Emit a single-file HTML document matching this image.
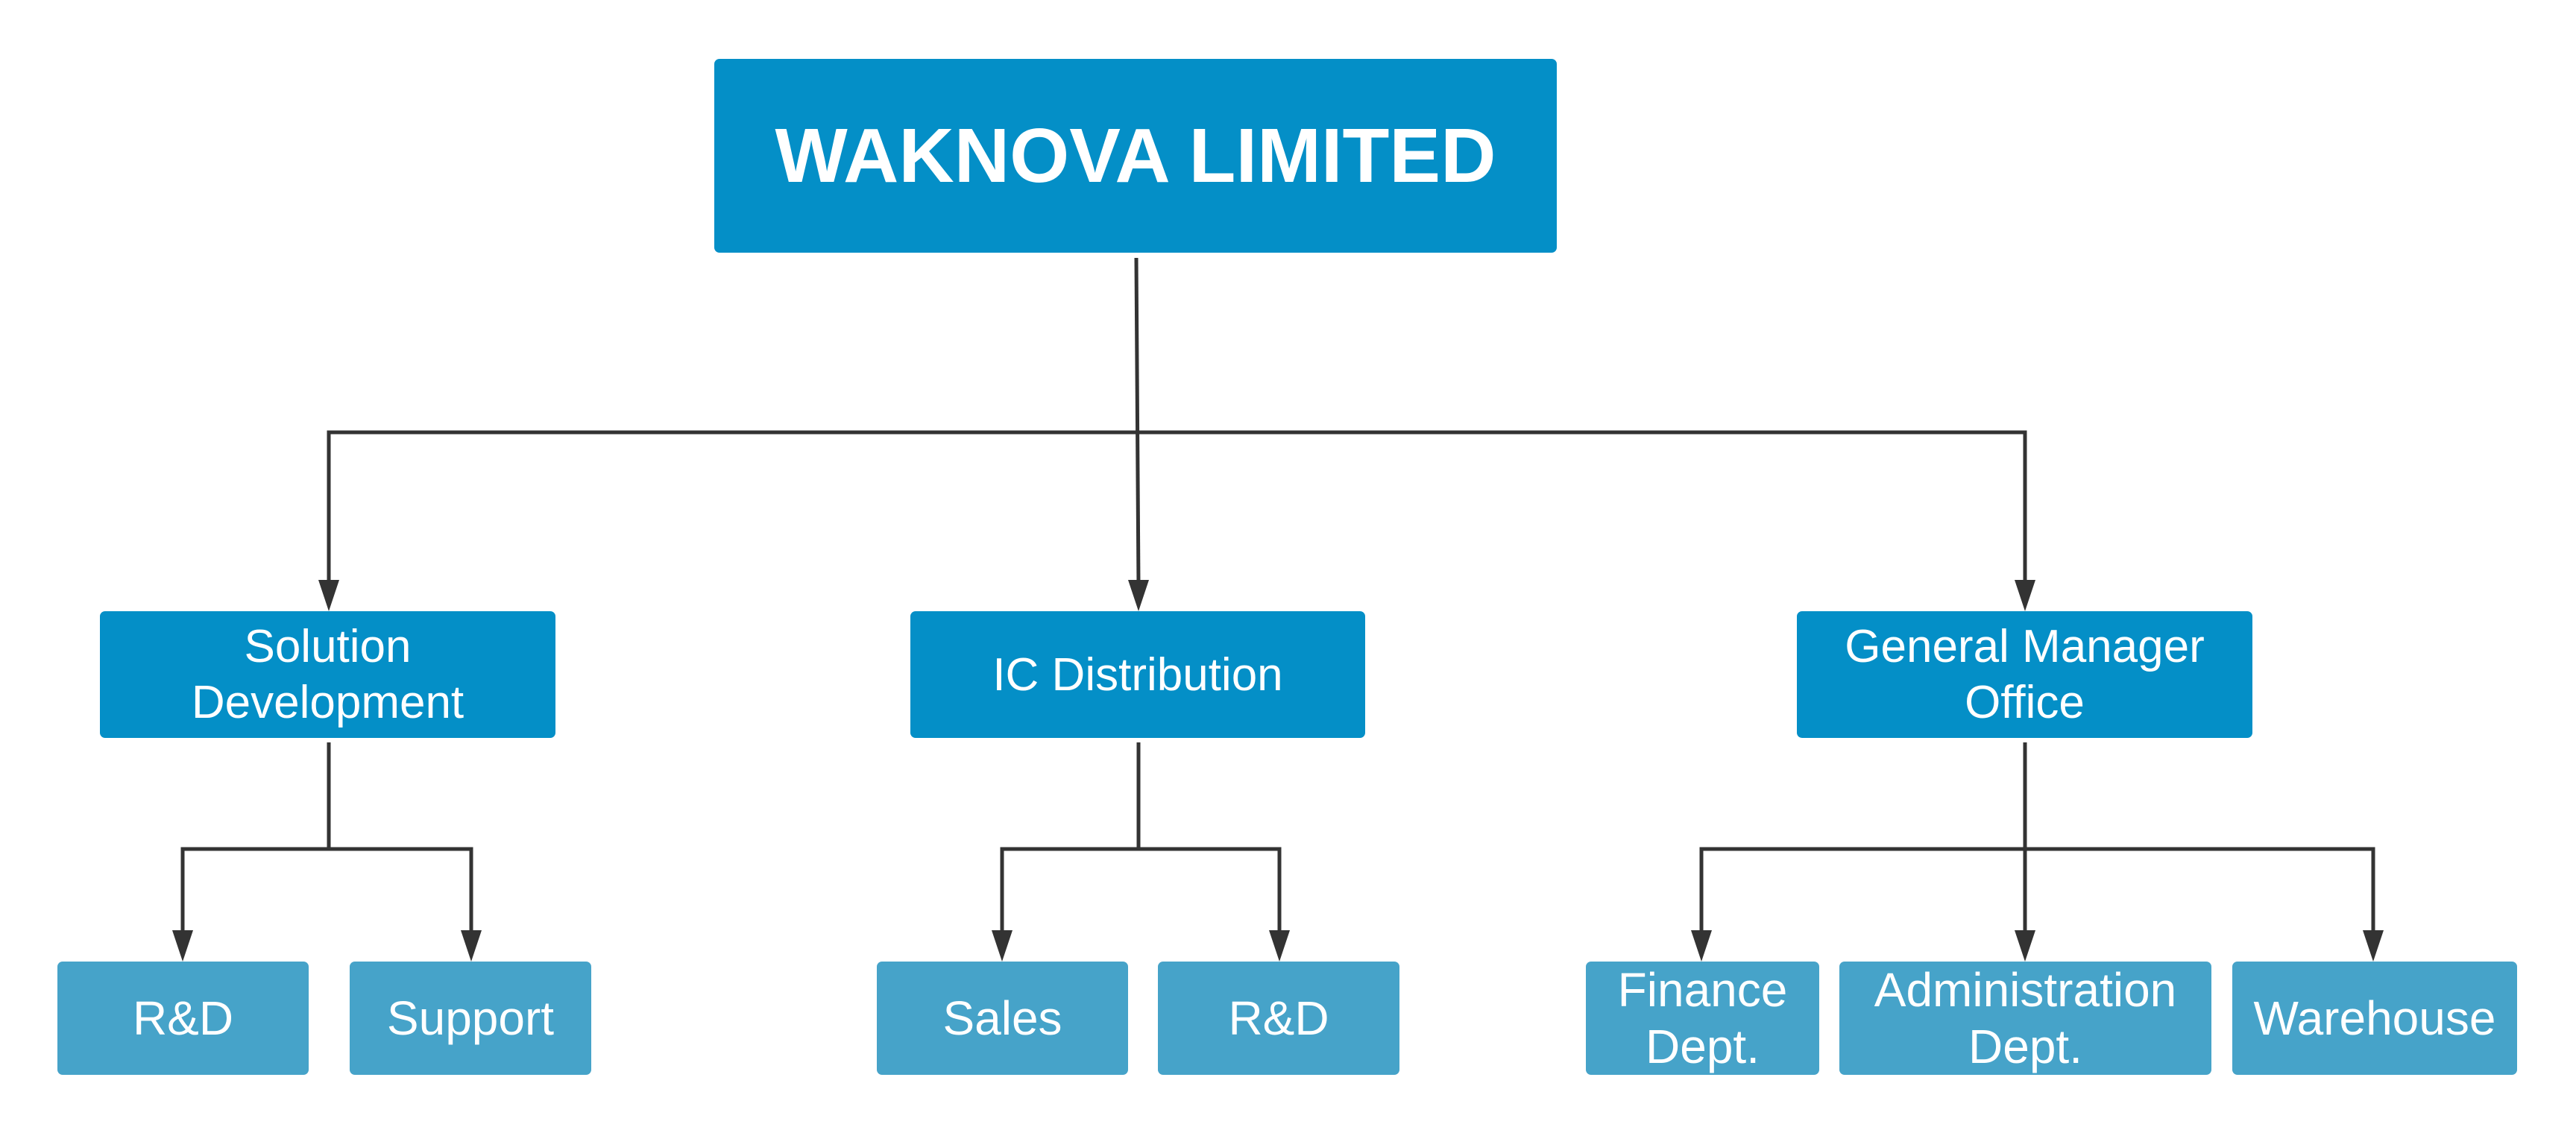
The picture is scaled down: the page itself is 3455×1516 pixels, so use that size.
<!DOCTYPE html>
<html><head><meta charset="utf-8"><style>
html,body{margin:0;padding:0;background:#fff;}
body{width:3455px;height:1516px;position:relative;overflow:hidden;font-family:"Liberation Sans",sans-serif;}
.b{position:absolute;display:flex;align-items:center;justify-content:center;text-align:center;color:#fff;border-radius:7px;box-sizing:border-box;}
.l1{background:#048fc7;font-weight:bold;font-size:103px;}
.l2{background:#048fc7;font-size:62px;line-height:75px;}
.l3{background:#46a3c9;font-size:64px;line-height:76px;}
svg{position:absolute;left:0;top:0;}
</style></head><body>
<svg width="3455" height="1516" viewBox="0 0 3455 1516">
<g stroke="#333" stroke-width="5" fill="none">
<line x1="1524" y1="346" x2="1527" y2="785"/>
<polyline points="441,785 441,580 2716,580 2716,785"/>
<polyline points="245,1255 245,1139 632,1139 632,1255"/>
<line x1="441" y1="996" x2="441" y2="1139"/>
<polyline points="1344,1255 1344,1139 1716,1139 1716,1255"/>
<line x1="1527" y1="996" x2="1527" y2="1139"/>
<polyline points="2282,1255 2282,1139 3183,1139 3183,1255"/>
<line x1="2716" y1="996" x2="2716" y2="1255"/>
</g>
<g fill="#333">
<polygon points="427,778 455,778 441,820"/>
<polygon points="1513,778 1541,778 1527,820"/>
<polygon points="2702,778 2730,778 2716,820"/>
<polygon points="231,1248 259,1248 245,1290"/>
<polygon points="618,1248 646,1248 632,1290"/>
<polygon points="1330,1248 1358,1248 1344,1290"/>
<polygon points="1702,1248 1730,1248 1716,1290"/>
<polygon points="2268,1248 2296,1248 2282,1290"/>
<polygon points="2702,1248 2730,1248 2716,1290"/>
<polygon points="3169,1248 3197,1248 3183,1290"/>
</g>
</svg>
<div class="b l1" style="left:958px;top:79px;width:1130px;height:260px;">WAKNOVA LIMITED</div>
<div class="b l2" style="left:134px;top:820px;width:611px;height:170px;">Solution<br>Development</div>
<div class="b l2" style="left:1221px;top:820px;width:610px;height:170px;">IC Distribution</div>
<div class="b l2" style="left:2410px;top:820px;width:611px;height:170px;">General Manager<br>Office</div>
<div class="b l3" style="left:77px;top:1290px;width:337px;height:152px;">R&amp;D</div>
<div class="b l3" style="left:469px;top:1290px;width:324px;height:152px;">Support</div>
<div class="b l3" style="left:1176px;top:1290px;width:337px;height:152px;">Sales</div>
<div class="b l3" style="left:1553px;top:1290px;width:324px;height:152px;">R&amp;D</div>
<div class="b l3" style="left:2127px;top:1290px;width:313px;height:152px;">Finance<br>Dept.</div>
<div class="b l3" style="left:2467px;top:1290px;width:499px;height:152px;">Administration<br>Dept.</div>
<div class="b l3" style="left:2994px;top:1290px;width:382px;height:152px;">Warehouse</div>
</body></html>
